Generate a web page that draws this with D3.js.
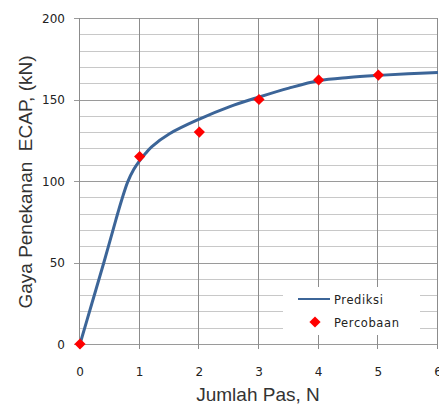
<!DOCTYPE html>
<html>
<head>
<meta charset="utf-8">
<script src="https://cdn.jsdelivr.net/npm/d3@7"></script>
<style>
  body { margin: 0; background: #fff; }
  svg { display: block; }
</style>
</head>
<body>
<div id="chart"></div>
<script>
// measured points (Percobaan)
const expN = [0, 1, 2, 3, 4, 5];
const expForce = [0, 115, 130, 150, 162, 165];

// predicted curve (Prediksi)
const predN = [0, 0.2, 0.4, 0.6, 0.7, 0.8, 0.9, 1, 1.1, 1.2, 1.5, 2, 2.5, 3, 3.5, 4, 4.5, 5, 5.5, 6];
const predForce = [0, 25, 50, 76, 88.5, 99.5, 107, 112.5, 117, 121, 129, 138, 145.5, 151.5, 157, 161.5, 163.5, 164.8, 165.8, 166.5];

const xTicks = [0, 1, 2, 3, 4, 5, 6];
const yTicks = [0, 50, 100, 150, 200];

const width = 439, height = 405;
const margin = { top: 18, right: 1, bottom: 61, left: 80 };

const svg = d3.select("#chart").append("svg")
    .attr("width", width)
    .attr("height", height);

const x = d3.scaleLinear()
    .domain([0, 6])
    .range([margin.left, width - margin.right]);
const y = d3.scaleLinear()
    .domain([0, 200])
    .range([height - margin.bottom, margin.top]);

// minor horizontal grid every 10
svg.append("g")
    .selectAll("line")
    .data(d3.range(10, 200, 10).filter(v => v % 50 !== 0))
    .join("line")
    .attr("x1", x(0)).attr("x2", x(6))
    .attr("y1", d => Math.round(y(d)) + 0.5)
    .attr("y2", d => Math.round(y(d)) + 0.5)
    .attr("stroke", "#c8c8c8");

// major horizontal grid
svg.append("g")
    .selectAll("line")
    .data(yTicks)
    .join("line")
    .attr("x1", x(0) - 6).attr("x2", x(6))
    .attr("y1", d => Math.round(y(d)) + 0.5)
    .attr("y2", d => Math.round(y(d)) + 0.5)
    .attr("stroke", "#9a9a9a");

// vertical grid with ticks below the axis
svg.append("g")
    .selectAll("line")
    .data(xTicks)
    .join("line")
    .attr("x1", d => Math.round(x(d)) - 0.5)
    .attr("x2", d => Math.round(x(d)) - 0.5)
    .attr("y1", y(200))
    .attr("y2", y(0) + 5)
    .attr("stroke", "#8c8c8c");

// tick labels
svg.append("g")
    .selectAll("text")
    .data(yTicks)
    .join("text")
    .attr("x", x(0) - 15)
    .attr("y", d => y(d) + 4.5)
    .attr("text-anchor", "end")
    .attr("font-family", "DejaVu Sans, sans-serif")
    .attr("font-size", 12)
    .attr("fill", "#222")
    .text(d => d);

svg.append("g")
    .selectAll("text")
    .data(xTicks)
    .join("text")
    .attr("x", d => x(d))
    .attr("y", y(0) + 32)
    .attr("text-anchor", "middle")
    .attr("font-family", "DejaVu Sans, sans-serif")
    .attr("font-size", 12)
    .attr("fill", "#222")
    .text(d => d);

// axis titles
svg.append("text")
    .attr("x", 258)
    .attr("y", 401)
    .attr("text-anchor", "middle")
    .attr("font-family", "Liberation Sans, Arial, sans-serif")
    .attr("font-size", 19)
    .attr("fill", "#333")
    .text("Jumlah Pas, N");

svg.append("text")
    .attr("transform", `rotate(-90) translate(${-182},${32})`)
    .attr("text-anchor", "middle")
    .attr("font-family", "Liberation Sans, Arial, sans-serif")
    .attr("font-size", 19)
    .attr("fill", "#333")
    .attr("xml:space", "preserve")
    .text("Gaya Penekanan  ECAP, (kN)");

// legend box (covers grid)
const lg = svg.append("g");
lg.append("rect")
    .attr("x", 283).attr("y", 287)
    .attr("width", 137).attr("height", 48)
    .attr("fill", "#fff");

// prediction curve
const pred = predN.map((n, i) => ({ n, f: predForce[i] }));
const line = d3.line()
    .x(d => x(d.n))
    .y(d => y(d.f))
    .curve(d3.curveCatmullRom.alpha(0.5));

svg.append("path")
    .datum(pred)
    .attr("d", line)
    .attr("fill", "none")
    .attr("stroke", "#3c6598")
    .attr("stroke-width", 3);

// experiment markers
const diamond = d3.symbol().type(d3.symbolDiamond2).size(80);
svg.append("g")
    .selectAll("path")
    .data(expN.map((n, i) => ({ n, f: expForce[i] })))
    .join("path")
    .attr("transform", d => `translate(${x(d.n)},${y(d.f)})`)
    .attr("d", diamond)
    .attr("fill", "#ff0000");

// legend entries
lg.append("line")
    .attr("x1", 298).attr("x2", 330)
    .attr("y1", 299).attr("y2", 299)
    .attr("stroke", "#3c6598")
    .attr("stroke-width", 2);
lg.append("path")
    .attr("transform", "translate(315,322)")
    .attr("d", diamond)
    .attr("fill", "#ff0000");
lg.selectAll("text")
    .data(["Prediksi", "Percobaan"])
    .join("text")
    .attr("x", 334)
    .attr("y", (d, i) => 303.5 + i * 23)
    .attr("font-family", "DejaVu Sans, sans-serif")
    .attr("font-size", 11.5)
    .attr("letter-spacing", 0.6)
    .attr("fill", "#222")
    .text(d => d);
</script>
</body>
</html>
